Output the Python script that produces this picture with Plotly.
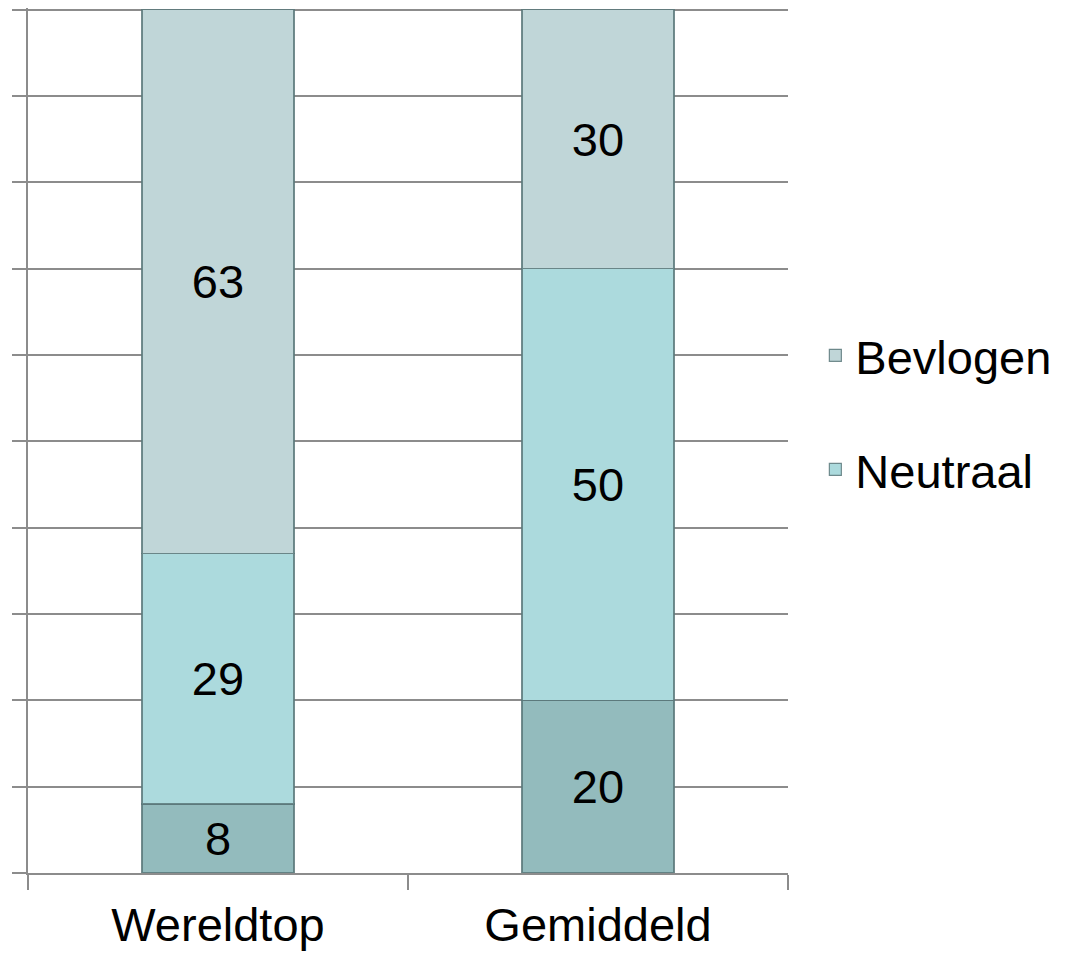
import plotly.graph_objects as go

categories = ["Wereldtop", "Gemiddeld"]
niet_bevlogen = [8, 20]
neutraal = [29, 50]
bevlogen = [63, 30]

FONT = "Liberation Sans, Arial, sans-serif"
edge = dict(color="rgba(90,120,122,0.85)", width=1.2)

fig = go.Figure()
fig.add_trace(go.Bar(
    x=categories, y=niet_bevlogen, name="Niet bevlogen", showlegend=False,
    legendgroup="c", legendrank=3,
    marker=dict(color="#93bbbd", line=edge), text=niet_bevlogen,
    textposition="inside", insidetextanchor="middle", textangle=0,
    textfont=dict(size=47, color="black", family=FONT), width=0.4,
))
fig.add_trace(go.Bar(
    x=categories, y=neutraal, name="Neutraal", legendgroup="b", legendrank=2,
    marker=dict(color="#acdadd", line=edge), text=neutraal,
    textposition="inside", insidetextanchor="middle", textangle=0,
    textfont=dict(size=47, color="black", family=FONT), width=0.4,
))
fig.add_trace(go.Bar(
    x=categories, y=bevlogen, name="Bevlogen", legendgroup="a", legendrank=1,
    marker=dict(color="#c0d6d8", line=edge), text=bevlogen,
    textposition="inside", insidetextanchor="middle", textangle=0,
    textfont=dict(size=47, color="black", family=FONT), width=0.4,
))

fig.update_layout(
    barmode="stack",
    width=1067, height=959,
    margin=dict(l=20, r=287, t=0, b=94, autoexpand=False),
    paper_bgcolor="white", plot_bgcolor="white",
    font=dict(family=FONT, size=47, color="black"),
    legend=dict(
        x=1.036, xanchor="left", y=0.532, yanchor="middle",
        traceorder="grouped", tracegroupgap=50,
        font=dict(size=47, family=FONT, color="black"),
        bgcolor="rgba(0,0,0,0)", itemwidth=30,
    ),
    xaxis=dict(
        automargin=False,
        showline=True, linecolor="#8c8c8c", linewidth=1.5,
        ticks="outside", ticklen=15, tickcolor="#8c8c8c", tickwidth=1.5,
        tickson="boundaries", showgrid=False, ticklabelstandoff=10,
        tickfont=dict(size=47, family=FONT, color="black"),
    ),
    yaxis=dict(
        automargin=False,
        range=[0, 100.2], dtick=10, showticklabels=False,
        showline=True, linecolor="#8c8c8c", linewidth=1.5,
        ticks="outside", ticklen=14, tickcolor="#8c8c8c", tickwidth=1.5,
        showgrid=True, gridcolor="#8c8c8c", gridwidth=1.5,
        zeroline=False,
    ),
)

fig.write_html("out.html")
